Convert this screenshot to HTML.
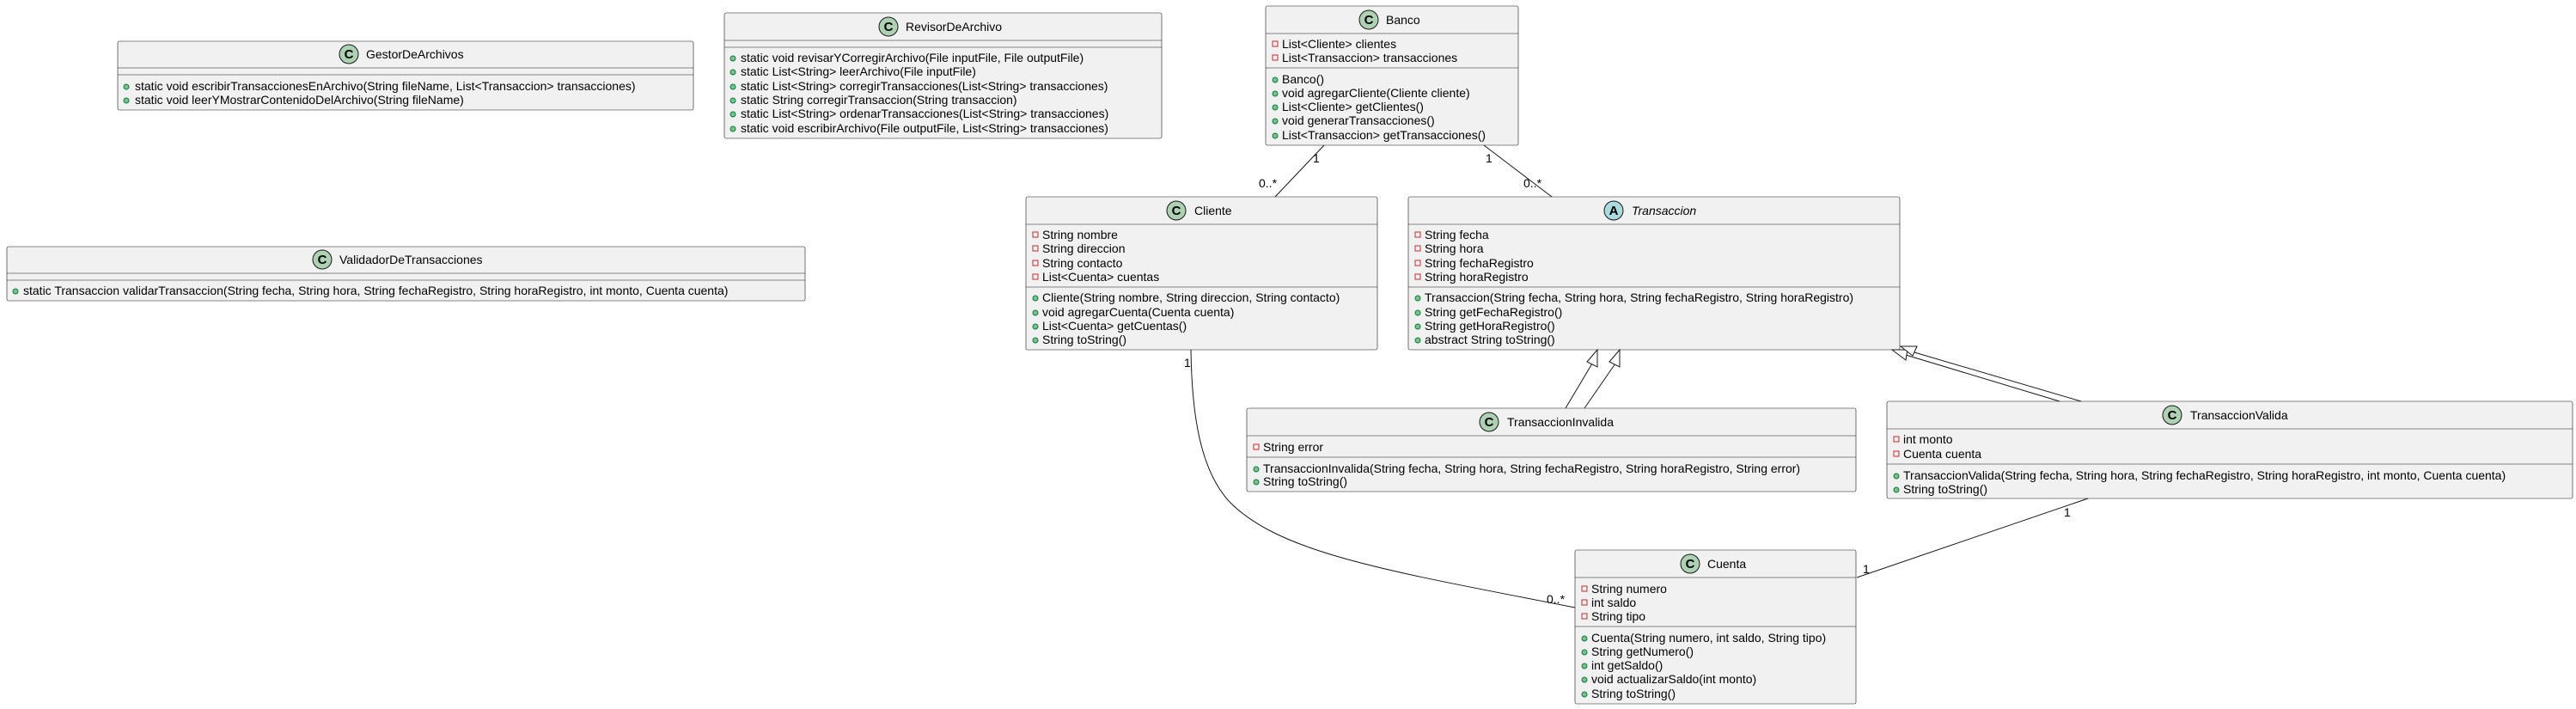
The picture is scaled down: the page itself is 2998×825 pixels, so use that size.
<!DOCTYPE html>
<html><head><meta charset="utf-8"><style>
html,body{margin:0;padding:0;background:#fff;}
svg{display:block;}
text{font-family:"Liberation Sans","DejaVu Sans",sans-serif;font-size:14px;fill:#000;}
.b{fill:#F1F1F1;stroke:#181818;stroke-width:0.6;}
.l{stroke:#181818;stroke-width:0.6;}
.e{fill:none;stroke:#181818;stroke-width:1;}
.pr{fill:none;stroke:#C82930;stroke-width:1;}
.pu{fill:#84BE84;stroke:#038048;stroke-width:1;}
.ic{fill:#ADD1B2;stroke:#181818;stroke-width:1;}
.ia{fill:#A9DCDF;stroke:#181818;stroke-width:1;}
.ct{font-weight:bold;font-size:15px;}
</style></head><body>
<svg width="2998" height="825" xmlns="http://www.w3.org/2000/svg">

<!-- GestorDeArchivos -->
<rect class="b" x="137" y="48" width="670" height="80" rx="2"/>
<line class="l" x1="137" y1="79" x2="807" y2="79"/><line class="l" x1="137" y1="87" x2="807" y2="87"/>
<circle class="ic" cx="406" cy="63" r="11"/><text class="ct" x="406" y="68" text-anchor="middle">C</text>
<text x="426" y="68">GestorDeArchivos</text>
<circle class="pu" cx="147" cy="101" r="3"/><text x="157" y="105">static void escribirTransaccionesEnArchivo(String fileName, List&lt;Transaccion&gt; transacciones)</text>
<circle class="pu" cx="147" cy="117" r="3"/><text x="157" y="121">static void leerYMostrarContenidoDelArchivo(String fileName)</text>

<!-- RevisorDeArchivo -->
<rect class="b" x="843" y="15" width="509" height="146" rx="2"/>
<line class="l" x1="843" y1="47" x2="1352" y2="47"/><line class="l" x1="843" y1="55" x2="1352" y2="55"/>
<circle class="ic" cx="1034" cy="31" r="11"/><text class="ct" x="1034" y="36" text-anchor="middle">C</text>
<text x="1054" y="36">RevisorDeArchivo</text>
<circle class="pu" cx="853" cy="68" r="3"/><text x="862" y="72">static void revisarYCorregirArchivo(File inputFile, File outputFile)</text>
<circle class="pu" cx="853" cy="84" r="3"/><text x="862" y="88">static List&lt;String&gt; leerArchivo(File inputFile)</text>
<circle class="pu" cx="853" cy="101" r="3"/><text x="862" y="105">static List&lt;String&gt; corregirTransacciones(List&lt;String&gt; transacciones)</text>
<circle class="pu" cx="853" cy="117" r="3"/><text x="862" y="121">static String corregirTransaccion(String transaccion)</text>
<circle class="pu" cx="853" cy="133" r="3"/><text x="862" y="137">static List&lt;String&gt; ordenarTransacciones(List&lt;String&gt; transacciones)</text>
<circle class="pu" cx="853" cy="150" r="3"/><text x="862" y="154">static void escribirArchivo(File outputFile, List&lt;String&gt; transacciones)</text>

<!-- ValidadorDeTransacciones -->
<rect class="b" x="8" y="287" width="929" height="63" rx="2"/>
<line class="l" x1="8" y1="318" x2="937" y2="318"/><line class="l" x1="8" y1="326" x2="937" y2="326"/>
<circle class="ic" cx="375" cy="302" r="11"/><text class="ct" x="375" y="307" text-anchor="middle">C</text>
<text x="395" y="307">ValidadorDeTransacciones</text>
<circle class="pu" cx="18" cy="339" r="3"/><text x="27" y="343">static Transaccion validarTransaccion(String fecha, String hora, String fechaRegistro, String horaRegistro, int monto, Cuenta cuenta)</text>

<!-- Banco -->
<rect class="b" x="1473" y="7" width="294" height="162" rx="2"/>
<line class="l" x1="1473" y1="39" x2="1767" y2="39"/><line class="l" x1="1473" y1="79" x2="1767" y2="79"/>
<circle class="ic" cx="1593" cy="23" r="11"/><text class="ct" x="1593" y="28" text-anchor="middle">C</text>
<text x="1613" y="28">Banco</text>
<rect class="pr" x="1481" y="48" width="6" height="6"/><text x="1492" y="56">List&lt;Cliente&gt; clientes</text>
<rect class="pr" x="1481" y="64" width="6" height="6"/><text x="1492" y="72">List&lt;Transaccion&gt; transacciones</text>
<circle class="pu" cx="1484" cy="93" r="3"/><text x="1492" y="97">Banco()</text>
<circle class="pu" cx="1484" cy="109" r="3"/><text x="1492" y="113">void agregarCliente(Cliente cliente)</text>
<circle class="pu" cx="1484" cy="125" r="3"/><text x="1492" y="129">List&lt;Cliente&gt; getClientes()</text>
<circle class="pu" cx="1484" cy="141" r="3"/><text x="1492" y="145">void generarTransacciones()</text>
<circle class="pu" cx="1484" cy="158" r="3"/><text x="1492" y="162">List&lt;Transaccion&gt; getTransacciones()</text>

<!-- Cliente -->
<rect class="b" x="1194" y="229" width="409" height="178" rx="2"/>
<line class="l" x1="1194" y1="261" x2="1603" y2="261"/><line class="l" x1="1194" y1="334" x2="1603" y2="334"/>
<circle class="ic" cx="1369" cy="245" r="11"/><text class="ct" x="1369" y="250" text-anchor="middle">C</text>
<text x="1390" y="250">Cliente</text>
<rect class="pr" x="1202" y="270" width="6" height="6"/><text x="1213" y="278">String nombre</text>
<rect class="pr" x="1202" y="286" width="6" height="6"/><text x="1213" y="294">String direccion</text>
<rect class="pr" x="1202" y="303" width="6" height="6"/><text x="1213" y="311">String contacto</text>
<rect class="pr" x="1202" y="319" width="6" height="6"/><text x="1213" y="327">List&lt;Cuenta&gt; cuentas</text>
<circle class="pu" cx="1205" cy="347" r="3"/><text x="1213" y="351">Cliente(String nombre, String direccion, String contacto)</text>
<circle class="pu" cx="1205" cy="364" r="3"/><text x="1213" y="368">void agregarCuenta(Cuenta cuenta)</text>
<circle class="pu" cx="1205" cy="380" r="3"/><text x="1213" y="384">List&lt;Cuenta&gt; getCuentas()</text>
<circle class="pu" cx="1205" cy="396" r="3"/><text x="1213" y="400">String toString()</text>

<!-- Transaccion -->
<rect class="b" x="1639" y="229" width="572" height="178" rx="2"/>
<line class="l" x1="1639" y1="261" x2="2211" y2="261"/><line class="l" x1="1639" y1="334" x2="2211" y2="334"/>
<circle class="ia" cx="1878" cy="245" r="11"/><text class="ct" x="1878" y="250" text-anchor="middle">A</text>
<text x="1899" y="250" font-style="italic">Transaccion</text>
<rect class="pr" x="1647" y="270" width="6" height="6"/><text x="1658" y="278">String fecha</text>
<rect class="pr" x="1647" y="286" width="6" height="6"/><text x="1658" y="294">String hora</text>
<rect class="pr" x="1647" y="303" width="6" height="6"/><text x="1658" y="311">String fechaRegistro</text>
<rect class="pr" x="1647" y="319" width="6" height="6"/><text x="1658" y="327">String horaRegistro</text>
<circle class="pu" cx="1650" cy="347" r="3"/><text x="1658" y="351">Transaccion(String fecha, String hora, String fechaRegistro, String horaRegistro)</text>
<circle class="pu" cx="1650" cy="364" r="3"/><text x="1658" y="368">String getFechaRegistro()</text>
<circle class="pu" cx="1650" cy="380" r="3"/><text x="1658" y="384">String getHoraRegistro()</text>
<circle class="pu" cx="1650" cy="396" r="3"/><text x="1658" y="400">abstract String toString()</text>

<!-- TransaccionInvalida -->
<rect class="b" x="1451" y="475" width="709" height="97" rx="2"/>
<line class="l" x1="1451" y1="507" x2="2160" y2="507"/><line class="l" x1="1451" y1="532" x2="2160" y2="532"/>
<circle class="ic" cx="1733" cy="491" r="11"/><text class="ct" x="1733" y="496" text-anchor="middle">C</text>
<text x="1754" y="496">TransaccionInvalida</text>
<rect class="pr" x="1459" y="517" width="6" height="6"/><text x="1470" y="525">String error</text>
<circle class="pu" cx="1462" cy="546" r="3"/><text x="1470" y="550">TransaccionInvalida(String fecha, String hora, String fechaRegistro, String horaRegistro, String error)</text>
<circle class="pu" cx="1462" cy="561" r="3"/><text x="1470" y="565">String toString()</text>

<!-- TransaccionValida -->
<rect class="b" x="2196" y="467" width="798" height="113" rx="2"/>
<line class="l" x1="2196" y1="499" x2="2994" y2="499"/><line class="l" x1="2196" y1="540" x2="2994" y2="540"/>
<circle class="ic" cx="2528" cy="483" r="11"/><text class="ct" x="2528" y="488" text-anchor="middle">C</text>
<text x="2549" y="488">TransaccionValida</text>
<rect class="pr" x="2204" y="508" width="6" height="6"/><text x="2215" y="516">int monto</text>
<rect class="pr" x="2204" y="525" width="6" height="6"/><text x="2215" y="533">Cuenta cuenta</text>
<circle class="pu" cx="2207" cy="554" r="3"/><text x="2215" y="558">TransaccionValida(String fecha, String hora, String fechaRegistro, String horaRegistro, int monto, Cuenta cuenta)</text>
<circle class="pu" cx="2207" cy="570" r="3"/><text x="2215" y="574">String toString()</text>

<!-- Cuenta -->
<rect class="b" x="1833" y="640" width="327" height="179" rx="2"/>
<line class="l" x1="1833" y1="672" x2="2160" y2="672"/><line class="l" x1="1833" y1="729" x2="2160" y2="729"/>
<circle class="ic" cx="1967" cy="656" r="11"/><text class="ct" x="1967" y="661" text-anchor="middle">C</text>
<text x="1987" y="661">Cuenta</text>
<rect class="pr" x="1841" y="682" width="6" height="6"/><text x="1852" y="690">String numero</text>
<rect class="pr" x="1841" y="698" width="6" height="6"/><text x="1852" y="706">int saldo</text>
<rect class="pr" x="1841" y="714" width="6" height="6"/><text x="1852" y="722">String tipo</text>
<circle class="pu" cx="1844" cy="743" r="3"/><text x="1852" y="747">Cuenta(String numero, int saldo, String tipo)</text>
<circle class="pu" cx="1844" cy="759" r="3"/><text x="1852" y="763">String getNumero()</text>
<circle class="pu" cx="1844" cy="775" r="3"/><text x="1852" y="779">int getSaldo()</text>
<circle class="pu" cx="1844" cy="791" r="3"/><text x="1852" y="795">void actualizarSaldo(int monto)</text>
<circle class="pu" cx="1844" cy="808" r="3"/><text x="1852" y="812">String toString()</text>

<!-- Edges -->
<line class="e" x1="1541" y1="169" x2="1484" y2="229"/>
<text x="1528" y="189" font-size="12">1</text><text x="1465" y="218" font-size="12">0..*</text>
<line class="e" x1="1727" y1="169" x2="1806" y2="229"/>
<text x="1729" y="189" font-size="12">1</text><text x="1773" y="218" font-size="12">0..*</text>

<path class="e" d="M1386,407 C1387,480 1396,545 1430,583 C1490,645 1620,665 1833,707"/>
<text x="1378" y="427" font-size="12">1</text><text x="1800" y="702" font-size="12">0..*</text>

<line class="e" x1="2430" y1="580" x2="2161" y2="672"/>
<text x="2402" y="601" font-size="12">1</text><text x="2168" y="667" font-size="12">1</text>

<!-- inheritance -->
<line class="e" x1="1822" y1="475" x2="1853" y2="423"/>
<polygon points="1859,407 1847,421 1859,427" fill="#fff" stroke="#181818"/>
<line class="e" x1="1844" y1="475" x2="1880" y2="423"/>
<polygon points="1885,407 1873,421 1885,427" fill="#fff" stroke="#181818"/>
<line class="e" x1="2397" y1="467" x2="2218" y2="413"/>
<polygon points="2202,407 2220,407 2218,419" fill="#fff" stroke="#181818"/>
<line class="e" x1="2422" y1="467" x2="2228" y2="410"/>
<polygon points="2212,403 2231,403 2226,414" fill="#fff" stroke="#181818"/>
</svg>
</body></html>
